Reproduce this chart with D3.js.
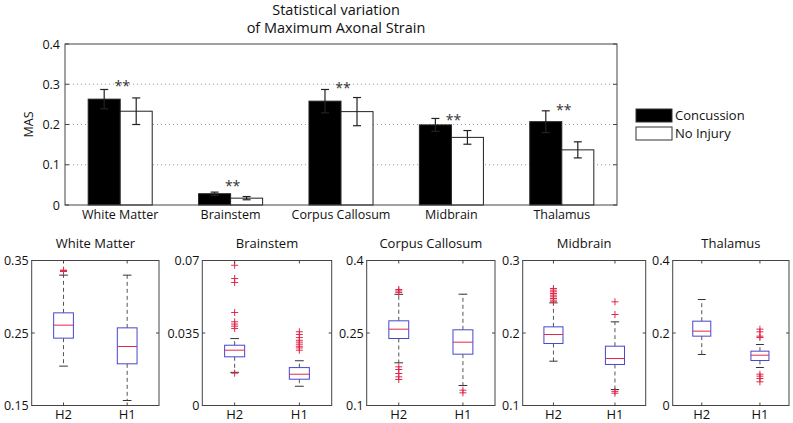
<!DOCTYPE html>
<html><head><meta charset="utf-8">
<script src="https://cdn.jsdelivr.net/npm/d3@7"></script>
<style>body{margin:0;background:#fff}svg{display:block}text{font-family:"Open Sans",sans-serif;fill:#111}</style>
</head><body><svg id="c" width="793" height="423"></svg>
<script>
// ---------- DATA ----------
const categories = ["White Matter","Brainstem","Corpus Callosum","Midbrain","Thalamus"];
const seriesNames = ["Concussion","No Injury"];
const concussion = [0.263,0.028,0.258,0.199,0.207];
const concussionErr = [0.024,0.004,0.029,0.016,0.027];
const noInjury = [0.233,0.017,0.232,0.168,0.137];
const noInjuryErr = [0.033,0.004,0.035,0.017,0.020];
const starLevel = [0.300,0.052,0.295,0.215,0.240];
const topTicks = [0,0.1,0.2,0.3,0.4];
const topTickLabels = ["0","0.1","0.2","0.3","0.4"];
const groups = ["H2","H1"];
// box stats: [lowWhisker, q1, median, q3, highWhisker]
const boxStats = [
  [[0.2043,0.2429,0.2608,0.2778,0.3298],[0.1569,0.2075,0.2314,0.2571,0.3298]],
  [[0.0160,0.0235,0.0267,0.0291,0.0323],[0.0093,0.0127,0.0151,0.0183,0.0216]],
  [[0.1883,0.2386,0.2579,0.2752,0.3300],[0.1414,0.2062,0.2310,0.2566,0.3303]],
  [[0.1611,0.1855,0.1979,0.2085,0.2416],[0.1220,0.1566,0.1648,0.1818,0.2154]],
  [[0.1407,0.1913,0.2051,0.2326,0.2924],[0.1048,0.1241,0.1388,0.1499,0.1683]]
];
const outliers = [
  [[0.3367,0.3348,0.3360],[]],
  [[0.0677,0.0613,0.0594,0.0449,0.0404,0.0393,0.0383,0.0372,0.0156],[0.0356,0.0343,0.0328,0.0315,0.0306,0.0296,0.0286,0.0278,0.0267]],
  [[0.340,0.337,0.334,0.1800,0.1745,0.1662,0.1593,0.1538],[0.1317,0.1262]],
  [[0.2614,0.2591,0.2568,0.2545,0.2522,0.2499,0.2476,0.2453,0.2430],[0.2430,0.2255,0.1195,0.1170]],
  [[],[0.2106,0.2032,0.1913,0.1876,0.0864,0.0809,0.0745,0.0653]]
];
const panelDomains = [[0.15,0.35],[0,0.07],[0.1,0.4],[0.1,0.3],[0,0.4]];
const panelTicks = [[0.15,0.25,0.35],[0,0.035,0.07],[0.1,0.25,0.4],[0.1,0.2,0.3],[0,0.2,0.4]];
const panelTickLabels = [["0.15","0.25","0.35"],["0","0.035","0.07"],["0.1","0.25","0.4"],["0.1","0.2","0.3"],["0","0.2","0.4"]];

// ---------- LAYOUT ----------
const svg = d3.select("#c");
const axisCol = "#444";
const T = {l:65,r:617,t:44,b:205};
const x0 = d3.scaleBand().domain(categories).range([T.l,T.r]).paddingInner(0).paddingOuter(0);
const y0 = d3.scaleLinear().domain([0,0.4]).range([T.b,T.t]);
const bw = x0.bandwidth()*0.29;

// title
svg.append("text").attr("x",336).attr("y",15).attr("text-anchor","middle").style("font-size","14.5px").text("Statistical variation");
svg.append("text").attr("x",336).attr("y",33).attr("text-anchor","middle").style("font-size","14.5px").text("of Maximum Axonal Strain");

// grid
svg.append("g").selectAll("line").data(topTicks.filter(d=>d>0&&d<0.4)).join("line")
  .attr("x1",T.l).attr("x2",T.r).attr("y1",d=>y0(d)).attr("y2",d=>y0(d))
  .attr("stroke","#999").attr("stroke-width",1).attr("stroke-dasharray","1,3");

// bars
const gb = svg.append("g");
categories.forEach((c,i)=>{
  const cx = x0(c)+x0.bandwidth()/2;
  const vals=[concussion[i],noInjury[i]], errs=[concussionErr[i],noInjuryErr[i]];
  vals.forEach((v,j)=>{
    const bx = cx - bw + j*bw;
    gb.append("rect").attr("x",bx).attr("y",y0(v)).attr("width",bw).attr("height",y0(0)-y0(v))
      .attr("fill",j===0?"#000":"#fff").attr("stroke","#222").attr("stroke-width",1);
    const ex = bx+bw/2;
    gb.append("line").attr("x1",ex).attr("x2",ex).attr("y1",y0(v+errs[j])).attr("y2",y0(v-errs[j])).attr("stroke","#222").attr("stroke-width",1.2);
    [v+errs[j],v-errs[j]].forEach(e=>gb.append("line").attr("x1",ex-4).attr("x2",ex+4).attr("y1",y0(e)).attr("y2",y0(e)).attr("stroke","#222").attr("stroke-width",1.2));
  });
  gb.append("text").attr("x",cx+2).attr("y",y0(starLevel[i])+7).attr("text-anchor","middle").style("font-size","14px").style("fill","#333").text("**");
  svg.append("text").attr("x",cx).attr("y",219).attr("text-anchor","middle").style("font-size","12.5px").text(c);
});

// top axes box
svg.append("rect").attr("x",T.l).attr("y",T.t).attr("width",T.r-T.l).attr("height",T.b-T.t).attr("fill","none").attr("stroke",axisCol).attr("stroke-width",1);
topTicks.forEach((t,i)=>{
  svg.append("text").attr("x",T.l-5).attr("y",y0(t)+4.5).attr("text-anchor","end").style("font-size","12.5px").text(topTickLabels[i]);
  svg.append("line").attr("x1",T.l).attr("x2",T.l+4).attr("y1",y0(t)).attr("y2",y0(t)).attr("stroke",axisCol);
  svg.append("line").attr("x1",T.r).attr("x2",T.r-4).attr("y1",y0(t)).attr("y2",y0(t)).attr("stroke",axisCol);
});
svg.append("text").attr("transform",`translate(33,${(T.t+T.b)/2}) rotate(-90)`).attr("text-anchor","middle").style("font-size","12.5px").text("MAS");

// legend
seriesNames.forEach((n,i)=>{
  const ly = 109 + i*18;
  svg.append("rect").attr("x",636).attr("y",ly).attr("width",36).attr("height",13).attr("fill",i===0?"#000":"#fff").attr("stroke","#333");
  svg.append("text").attr("x",675).attr("y",ly+11).style("font-size","13px").text(n);
});

// ---------- BOX PLOTS ----------
const panels = [[31.7,159],[202.3,331.7],[366.7,495],[522.7,645.7],[672.7,789]];
const PT=260.5, PB=405.5;
const boxBlue="#4646d0", red="#e0284a", whisk="#555";
categories.forEach((c,p)=>{
  const [pl,pr]=panels[p];
  const xs = d3.scaleLinear().domain([0.5,2.5]).range([pl,pr]);
  const ys = d3.scaleLinear().domain(panelDomains[p]).range([PB,PT]);
  const g = svg.append("g");
  const unit = xs(1)-xs(0);
  groups.forEach((gname,k)=>{
    const cx = xs(k+1);
    const [lw,q1,med,q3,hw] = boxStats[p][k];
    const hb = unit*0.155, hc = unit*0.068;
    g.append("line").attr("x1",cx).attr("x2",cx).attr("y1",ys(q3)).attr("y2",ys(hw)).attr("stroke",whisk).attr("stroke-dasharray","4,3");
    g.append("line").attr("x1",cx).attr("x2",cx).attr("y1",ys(q1)).attr("y2",ys(lw)).attr("stroke",whisk).attr("stroke-dasharray","4,3");
    [lw,hw].forEach(w=>g.append("line").attr("x1",cx-hc).attr("x2",cx+hc).attr("y1",ys(w)).attr("y2",ys(w)).attr("stroke","#333"));
    g.append("rect").attr("x",cx-hb).attr("y",ys(q3)).attr("width",2*hb).attr("height",ys(q1)-ys(q3)).attr("fill","#fff").attr("stroke",boxBlue);
    g.append("line").attr("x1",cx-hb).attr("x2",cx+hb).attr("y1",ys(med)).attr("y2",ys(med)).attr("stroke",red);
    outliers[p][k].forEach(o=>{
      const oy = ys(o);
      g.append("line").attr("x1",cx-3.5).attr("x2",cx+3.5).attr("y1",oy).attr("y2",oy).attr("stroke",red);
      g.append("line").attr("x1",cx).attr("x2",cx).attr("y1",oy-3.5).attr("y2",oy+3.5).attr("stroke",red);
    });
    svg.append("text").attr("x",cx).attr("y",419).attr("text-anchor","middle").style("font-size","13px").text(gname);
    g.append("line").attr("x1",cx).attr("x2",cx).attr("y1",PB).attr("y2",PB-3).attr("stroke",axisCol);
    g.append("line").attr("x1",cx).attr("x2",cx).attr("y1",PT).attr("y2",PT+3).attr("stroke",axisCol);
  });
  g.append("rect").attr("x",pl).attr("y",PT).attr("width",pr-pl).attr("height",PB-PT).attr("fill","none").attr("stroke",axisCol);
  panelTicks[p].forEach((t,i)=>{
    svg.append("text").attr("x",pl-3).attr("y",ys(t)+4.5).attr("text-anchor","end").style("font-size","12.5px").text(panelTickLabels[p][i]);
    g.append("line").attr("x1",pl).attr("x2",pl+3).attr("y1",ys(t)).attr("y2",ys(t)).attr("stroke",axisCol);
    g.append("line").attr("x1",pr).attr("x2",pr-3).attr("y1",ys(t)).attr("y2",ys(t)).attr("stroke",axisCol);
  });
  svg.append("text").attr("x",(pl+pr)/2).attr("y",248).attr("text-anchor","middle").style("font-size","13px").text(c);
});
</script></body></html>
